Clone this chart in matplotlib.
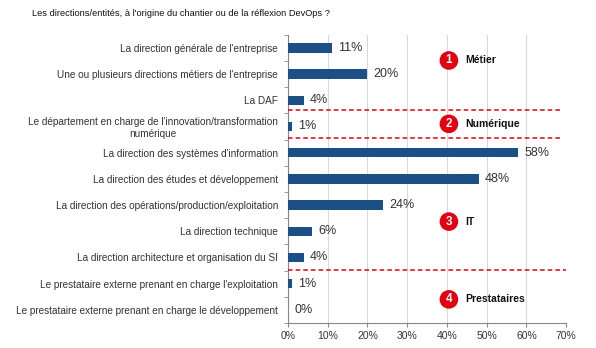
import matplotlib.pyplot as plt
import numpy as np

categories = [
    "La direction générale de l'entreprise",
    "Une ou plusieurs directions métiers de l'entreprise",
    "La DAF",
    "Le département en charge de l'innovation/transformation\nnumérique",
    "La direction des systèmes d'information",
    "La direction des études et développement",
    "La direction des opérations/production/exploitation",
    "La direction technique",
    "La direction architecture et organisation du SI",
    "Le prestataire externe prenant en charge l'exploitation",
    "Le prestataire externe prenant en charge le développement",
]
values = [11, 20, 4, 1, 58, 48, 24, 6, 4, 1, 0]

# groups: (number, name, y position of the badge)
group_nums = ["1", "2", "3", "4"]
group_names = ["Métier", "Numérique", "IT", "Prestataires"]
group_y = [0.48, 2.9, 6.63, 9.6]
separators = [2.38, 3.43, 8.48]

BAR = "#1b4f86"
RED = "#e3000f"

plt.rcParams["font.family"] = ["Liberation Sans", "DejaVu Sans"]

fig = plt.figure(figsize=(5.96, 3.48), dpi=100)
ax = fig.add_axes([0.483, 0.072, 0.467, 0.828])

y = np.arange(len(categories))
ax.barh(y, values, height=0.36, color=BAR, zorder=3)

for yi, v in zip(y, values):
    ax.text(v + 1.6, yi, f"{v}%", va="center", ha="left", fontsize=9,
            color="#333333", zorder=4)

ax.set_xlim(0, 70)
ax.set_ylim(len(categories) - 0.5, -0.5)
ax.set_xticks(np.arange(0, 71, 10))
ax.set_xticklabels([f"{t}%" for t in range(0, 71, 10)], fontsize=7.5, color="#333333")
ax.xaxis.grid(True, color="#d9d9d9", linewidth=0.8, zorder=0)
ax.tick_params(axis="x", length=3, color="#888888", pad=3)

ax.set_yticks(y)
ax.set_yticklabels(categories, fontsize=7.2, color="#333333")
for lab in ax.get_yticklabels():
    lab.set_multialignment("center")
ax.set_yticks(np.arange(-0.5, len(categories), 1), minor=True)
ax.tick_params(axis="y", which="major", length=0, pad=7)
ax.tick_params(axis="y", which="minor", length=3, color="#888888")

for side in ["top", "right"]:
    ax.spines[side].set_visible(False)
for side in ["left", "bottom"]:
    ax.spines[side].set_color("#888888")
    ax.spines[side].set_linewidth(0.8)

for i, s in enumerate(separators):
    ax.axhline(s, xmin=0, xmax=0.985 if i < 2 else 1.0, color=RED,
               linestyle=(0, (3, 2)), linewidth=1.1, zorder=5, clip_on=False)

for num, name, gy in zip(group_nums, group_names, group_y):
    ax.text(40.5, gy, num, ha="center", va="center", fontsize=8.5, color="white",
            fontweight="bold", zorder=6,
            bbox=dict(boxstyle="circle,pad=0.28", fc=RED, ec="none"))
    ax.text(44.5, gy, name, ha="left", va="center", fontsize=7.5,
            fontweight="bold", color="#111111", zorder=6)

fig.text(0.054, 0.962, "Les directions/entités, à l'origine du chantier ou de la réflexion DevOps ?",
         ha="left", va="center", fontsize=6.7, color="#111111")

fig.savefig("out.png", dpi=100)
